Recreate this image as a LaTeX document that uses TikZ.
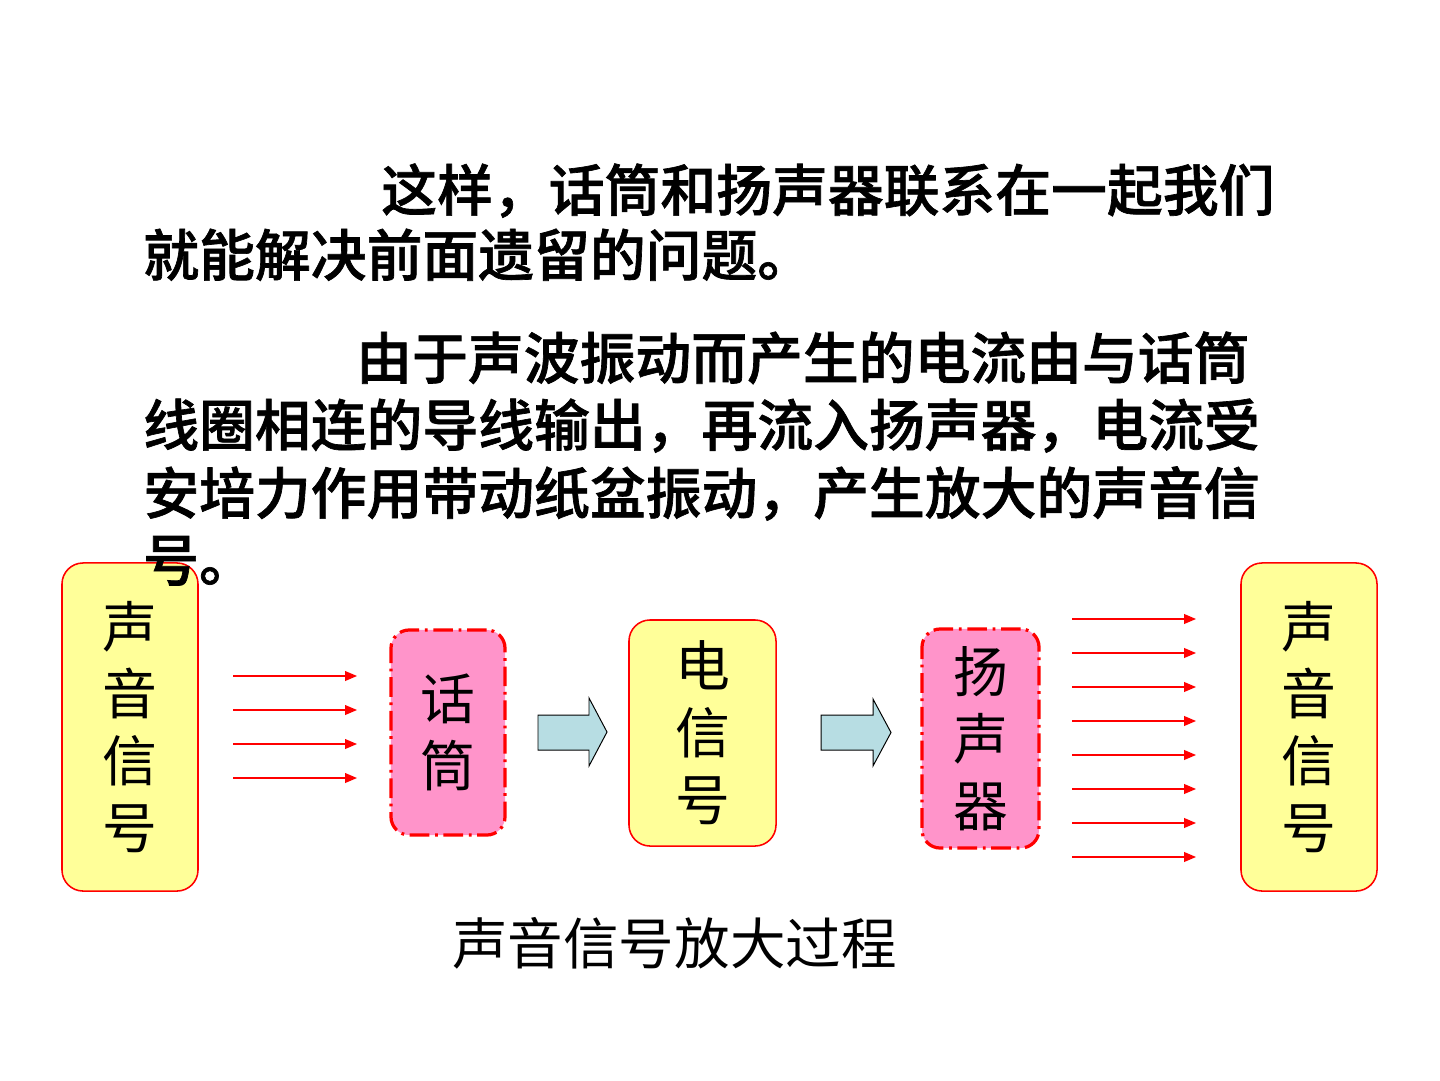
\documentclass[tikz,border=0pt]{standalone}
\usepackage{fontspec}
\newfontfamily\cjk{Noto Sans CJK SC}
\newfontfamily\cjkm{Noto Sans CJK SC}[UprightFont=* Medium,FakeBold=1.2]
\usetikzlibrary{arrows.meta}
\definecolor{boxyellow}{HTML}{FFFF99}
\definecolor{boxpink}{HTML}{FF94CA}
\definecolor{arrowblue}{HTML}{B7DDE3}
\begin{document}
\begin{tikzpicture}[x=0.025cm,y=-0.025cm,
  para/.style={anchor=base west,inner sep=0pt,font=\cjkm\fontsize{39.7}{48}\selectfont},
  boxtext/.style={inner sep=0pt,align=center,font=\cjk\fontsize{39}{47.7}\selectfont},
  ybox/.style={boxtext,draw=red,line width=1.1pt,fill=boxyellow,rounded corners=15pt},
  pbox/.style={boxtext,draw=red,line width=2.3pt,fill=boxpink,rounded corners=13pt,
    dash pattern=on 14pt off 4pt on 2pt off 4pt},
  sig/.style={draw=red,line width=0.9pt,-{Triangle[length=8.5pt,width=7pt]}},
  blockarrow/.style={draw=black,line width=0.7pt,fill=arrowblue}
]
\useasboundingbox (0,0) rectangle (1440,1080);

% boxes
\node[ybox,minimum width=3.4cm,minimum height=8.2cm] (src) at (130,727) {声\\音\\信\\号};
\node[pbox,minimum width=2.85cm,minimum height=5.125cm] (mic) at (448,732.5) {话\\筒};
\node[ybox,minimum width=3.675cm,minimum height=5.65cm] (elec) at (702.5,733) {电\\信\\号};
\node[pbox,minimum width=2.925cm,minimum height=5.475cm] (spk) at (980.5,738.5) {扬\\声\\器};
\node[ybox,minimum width=3.4cm,minimum height=8.2cm] (out) at (1309,727) {声\\音\\信\\号};

% paragraphs (drawn over the boxes)
\node[para] (p1a) at (381,211) {这样，话筒和扬声器联系在一起我们};
\node[para] (p1b) at (143,276) {就能解决前面遗留的问题。};
\node[para] (p2a) at (356,379) {由于声波振动而产生的电流由与话筒};
\node[para] (p2b) at (143,446) {线圈相连的导线输出，再流入扬声器，电流受};
\node[para] (p2c) at (143,514) {安培力作用带动纸盆振动，产生放大的声音信};
\node[para] (p2d) at (143,581) {号。};

% sound wave arrows
\foreach \y in {676,710,744,778} \draw[sig] (233,\y) -- (357,\y);
\foreach \k in {0,...,7} \draw[sig] (1072,619+34*\k) -- (1196,619+34*\k);

% block arrows
\draw[blockarrow] (538,715) -- (589,715) -- (589,698) -- (607,732) -- (589,766) -- (589,750) -- (538,750) -- cycle;
\draw[blockarrow] (821,715) -- (873,715) -- (873,699) -- (891,732.5) -- (873,766) -- (873,750) -- (821,750) -- cycle;

% caption
\node[anchor=base,inner sep=0pt,font=\cjk\fontsize{39.5}{48}\selectfont] (cap) at (674.5,964) {声音信号放大过程};
\end{tikzpicture}
\end{document}
